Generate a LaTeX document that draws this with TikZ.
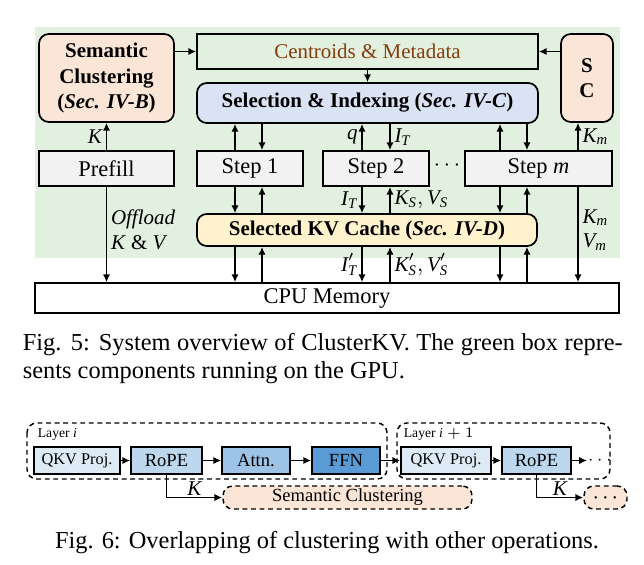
\documentclass[tikz,border=0pt]{standalone}
\usepackage{fontspec}
\setmainfont{Liberation Serif}
\usetikzlibrary{arrows.meta}
\newdimen\px \px=0.41pt
\definecolor{gpugreen}{HTML}{E2F0E0}
\definecolor{peach}{HTML}{FBE5D6}
\definecolor{selblue}{HTML}{DAE3F3}
\definecolor{kvyellow}{HTML}{FFF2CC}
\definecolor{stepgray}{HTML}{F2F2F2}
\definecolor{metabrown}{HTML}{843C0C}
\definecolor{blueA}{HTML}{DEEBF7}
\definecolor{blueB}{HTML}{BDD7EE}
\definecolor{blueC}{HTML}{9DC3E6}
\definecolor{blueD}{HTML}{5B9BD5}
\newcommand{\mv}[1]{\ensuremath{\mathit{#1}}}

\begin{document}
\begin{tikzpicture}[x=0.41pt, y=-0.41pt, line width=0.7pt,
		>={Latex[length=3.2pt,width=3pt]},
		box/.style={draw, inner sep=0pt, align=center, minimum height={35*\px}, font=\fontsize{9.2}{11}\selectfont},
		rbox/.style={box, rounded corners=4pt, font=\fontsize{8.6}{10.3}\selectfont\bfseries},
		lbl/.style={font=\fontsize{8.6}{10}\selectfont, inner sep=1.5pt},
		blk/.style={draw, inner sep=0pt, minimum height={27*\px}, font=\fontsize{7.6}{9}\selectfont},
		dashbox/.style={draw, dash pattern=on 2pt off 1.5pt, rounded corners=4pt, line width=0.6pt}]
		\useasboundingbox (0,0) rectangle (644,565);
		
		% Fig. 5: GPU area.
		\fill[gpugreen] (35,27) rectangle (620,258);
		
		% Fig. 5: boxes.
		\node[rbox, fill=peach, minimum width={135*\px}, minimum height={88*\px}] (sem) at (106.5,78) {Semantic\\Clustering\\(\textit{Sec. IV-B})};
		\node[box, fill=gpugreen, minimum width={341*\px}, font=\fontsize{8.6}{10}\selectfont\color{metabrown}] (cent) at (367.5,51.5) {Centroids \& Metadata};
		\node[rbox, fill=peach, minimum width={52*\px}, minimum height={88*\px}] (sc) at (587,78) {S\\C};
		\node[rbox, fill=selblue, minimum width={341*\px}, minimum height={40*\px}] (sel) at (367.5,103) {Selection \& Indexing (\textit{Sec. IV-C})};
		\node[box, fill=stepgray, minimum width={135*\px}] (prefill) at (106.5,168.5) {Prefill};
		\node[box, fill=stepgray, minimum width={106*\px}] (step1) at (250,168.5) {Step 1};
		\node[box, fill=stepgray, minimum width={106*\px}] (step2) at (376,168.5) {Step 2};
		\node[box, fill=stepgray, minimum width={147*\px}] (stepm) at (538.5,168.5) {Step \mv{m}};
		\node[font=\fontsize{9.2}{11}\selectfont] (gap) at (447,166) {$\cdots$};
		\node[rbox, fill=kvyellow, minimum width={340*\px}, minimum height={32*\px}] (kv) at (367,230) {Selected KV Cache (\textit{Sec. IV-D})};
		\node[box, fill=white, minimum width={584*\px}, minimum height={30*\px}] (cpu) at (327,298) {CPU Memory};
		
		% Fig. 5: columns of the arrows.
		\coordinate (a1) at (235,0);
		\coordinate (b1) at (262,0);
		\coordinate (a2) at (362,0);
		\coordinate (b2) at (390,0);
		\coordinate (a3) at (500,0);
		\coordinate (b3) at (527,0);
		\coordinate (km) at (578,0);
		
		% Fig. 5: connectors.
		\draw[->] (cent.west -| sem.east) -- (cent.west);
		\draw[->] (cent.east -| sc.west) -- (cent.east);
		\draw[->] (cent.south) -- (sel.north);
		\draw[->] (prefill.north) -- (sem.south) node[midway, left, lbl] {\mv{K}};
		\draw[->] (prefill.south) -- (cpu.north -| prefill.south)
			node[pos=0.45, right, lbl, align=left] {\textit{Offload}\\\textit{K} \& \textit{V}};
		
		\draw[->] (step1.north -| a1) -- (sel.south -| a1);
		\draw[->] (sel.south -| b1) -- (step1.north -| b1);
		\draw[->] (step1.south -| a1) -- (kv.north -| a1);
		\draw[->] (kv.north -| b1) -- (step1.south -| b1);
		\draw[->] (kv.south -| a1) -- (cpu.north -| a1);
		\draw[->] (cpu.north -| b1) -- (kv.south -| b1);
		
		\draw[->] (step2.north -| a2) -- (sel.south -| a2) node[midway, left, lbl] {\mv{q}};
		\draw[->] (sel.south -| b2) -- (step2.north -| b2) node[midway, right, lbl] {$\mv{I}_{\mv{T}}$};
		\draw[->] (step2.south -| a2) -- (kv.north -| a2) node[midway, left, lbl] {$\mv{I}_{\mv{T}}$};
		\draw[->] (kv.north -| b2) -- (step2.south -| b2) node[midway, right, lbl] {$\mv{K}_{\mv{S}},\mv{V}_{\mv{S}}$};
		\draw[->] (kv.south -| a2) -- (cpu.north -| a2) node[midway, left, lbl] {$\mv{I}'_{\mv{T}}$};
		\draw[->] (cpu.north -| b2) -- (kv.south -| b2) node[midway, right, lbl] {$\mv{K}'_{\mv{S}},\mv{V}'_{\mv{S}}$};
		
		\draw[->] (stepm.north -| a3) -- (sel.south -| a3);
		\draw[->] (sel.south -| b3) -- (stepm.north -| b3);
		\draw[->] (stepm.south -| a3) -- (kv.north -| a3);
		\draw[->] (kv.north -| b3) -- (stepm.south -| b3);
		\draw[->] (kv.south -| a3) -- (cpu.north -| a3);
		\draw[->] (cpu.north -| b3) -- (kv.south -| b3);
		
		\draw[->] (stepm.north -| km) -- (sc.south -| km) node[midway, right, lbl] {$\mv{K}_{\mv{m}}$};
		\draw[->] (stepm.south -| km) -- (cpu.north -| km)
			node[pos=0.45, right, lbl, align=left] {$\mv{K}_{\mv{m}}$\\$\mv{V}_{\mv{m}}$};
		
		% Fig. 5: caption.
		\node[anchor=base west, inner sep=0pt, font=\fontsize{10}{11.5}\selectfont] (cap5a) at (22,350)
			{\makebox[246pt][s]{Fig. 5: System overview of ClusterKV. The green box repre-}};
		\node[anchor=base west, inner sep=0pt, font=\fontsize{10}{11.5}\selectfont] (cap5b) at (22,378)
			{sents components running on the GPU.};
		
		% Fig. 6: layers.
		\draw[dashbox] (27,423) rectangle (387,479);
		\draw[dashbox] (397,423) rectangle (610,479);
		\node[anchor=west, inner sep=0pt, font=\fontsize{5.6}{6}\selectfont] (lay1) at (37,434) {Layer \mv{i}};
		\node[anchor=west, inner sep=0pt, font=\fontsize{5.6}{6}\selectfont] (lay2) at (403,434) {Layer $\mv{i}+1$};
		
		% Fig. 6: operations.
		\node[blk, fill=blueA, minimum width={86*\px}, font=\fontsize{6.7}{8}\selectfont] (qkv1) at (77,460.5) {QKV Proj.};
		\node[blk, fill=blueB, minimum width={71*\px}] (rope1) at (166.5,460.5) {RoPE};
		\node[blk, fill=blueC, minimum width={68*\px}] (attn) at (256,460.5) {Attn.};
		\node[blk, fill=blueD, minimum width={68*\px}] (ffn) at (346,460.5) {FFN};
		\node[blk, fill=blueA, minimum width={90*\px}, font=\fontsize{6.7}{8}\selectfont] (qkv2) at (446,460.5) {QKV Proj.};
		\node[blk, fill=blueB, minimum width={69*\px}] (rope2) at (536.5,460.5) {RoPE};
		\node[anchor=west, inner sep=0pt, font=\fontsize{7}{9}\selectfont] (more) at (587,460.5) {$\cdots$};
		\node[dashbox, fill=peach, minimum width={249*\px}, minimum height={23*\px}, inner sep=0pt, font=\fontsize{7.6}{9}\selectfont] (semclu) at (347.5,497.5) {Semantic Clustering};
		\node[dashbox, fill=peach, minimum width={43*\px}, minimum height={23*\px}, inner sep=0pt, font=\fontsize{6.5}{8}\selectfont\boldmath] (moreclu) at (605.5,497.5) {$\cdots$};
		
		% Fig. 6: connectors.
		\draw[->] (qkv1) -- (rope1);
		\draw[->] (rope1) -- (attn);
		\draw[->] (attn) -- (ffn);
		\draw[->] (ffn) -- (qkv2);
		\draw[->] (qkv2) -- (rope2);
		\draw[->] (rope2) -- (more);
		\draw[->] (rope1.south) |- (semclu.west) node[pos=0.75, above, lbl, inner sep=0.5pt] {\mv{K}};
		\draw[->] (rope2.south) |- (moreclu.west) node[pos=0.75, above, lbl, inner sep=0.5pt] {\mv{K}};
		
		% Fig. 6: caption.
		\node[anchor=base, inner sep=0pt, font=\fontsize{10}{11.5}\selectfont] (cap6) at (327,548)
			{Fig. 6: Overlapping of clustering with other operations.};
	\end{tikzpicture}
\end{document}
